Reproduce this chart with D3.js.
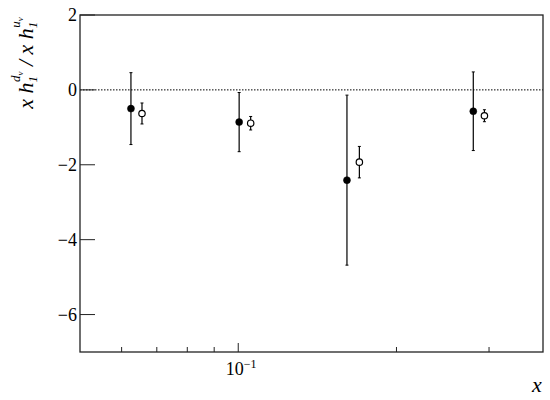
<!DOCTYPE html>
<html>
<head>
<meta charset="utf-8">
<script src="https://cdn.jsdelivr.net/npm/d3@7"></script>
<style>
  body { margin: 0; background: #fff; }
</style>
</head>
<body>
<svg id="graph" width="550" height="400"></svg>
<script>
// 实心点 (filled) 数据
const xFilled = [0.0625, 0.1004, 0.161, 0.280];
const yFilled = [-0.50, -0.86, -2.41, -0.57];
const eFilled = [0.96, 0.79, 2.27, 1.05];

// 空心点 (open) 数据
const xOpen = [0.0656, 0.1056, 0.170, 0.294];
const yOpen = [-0.63, -0.89, -1.93, -0.69];
const eOpen = [0.28, 0.18, 0.42, 0.16];

const yTicks = [2, 0, -2, -4, -6];
const xMinorTicks = [0.06, 0.07, 0.08, 0.09, 0.2, 0.3];
const xMajorTicks = [0.1];

const FONT = 'Liberation Serif';

const svg = d3.select('#graph');
const margin = { top: 15, right: 7, bottom: 48, left: 80 };
const width = 550, height = 400;

const xScale = d3.scaleLog()
    .domain([0.05, 0.38])
    .range([margin.left, width - margin.right]);

const yScale = d3.scaleLinear()
    .domain([-7, 2])
    .range([height - margin.bottom, margin.top]);

const x0 = margin.left, x1 = width - margin.right;
const y0 = margin.top, y1 = height - margin.bottom;

// 零线
svg.append('line')
    .attr('x1', x0).attr('x2', x1)
    .attr('y1', yScale(0)).attr('y2', yScale(0))
    .attr('stroke', '#000')
    .attr('stroke-width', 1)
    .attr('stroke-dasharray', '1.5,1.5');

// y 轴刻度
svg.selectAll('.ytick').data(yTicks).enter().append('line')
    .attr('class', 'ytick')
    .attr('x1', x0).attr('x2', x0 + 15)
    .attr('y1', d => yScale(d)).attr('y2', d => yScale(d))
    .attr('stroke', '#222').attr('stroke-width', 1);

svg.selectAll('.ylabel').data(yTicks).enter().append('text')
    .attr('class', 'ylabel')
    .attr('x', x0 - 3)
    .attr('y', d => yScale(d) + 6)
    .attr('text-anchor', 'end')
    .attr('fill', '#000')
    .style('font-family', FONT)
    .style('font-size', '18px')
    .text(d => d < 0 ? '\u2212' + Math.abs(d) : d);

// x 轴刻度
svg.selectAll('.xminor').data(xMinorTicks).enter().append('line')
    .attr('class', 'xminor')
    .attr('x1', d => xScale(d)).attr('x2', d => xScale(d))
    .attr('y1', y1).attr('y2', y1 - 5)
    .attr('stroke', '#222').attr('stroke-width', 1);

svg.selectAll('.xmajor').data(xMajorTicks).enter().append('line')
    .attr('class', 'xmajor')
    .attr('x1', d => xScale(d)).attr('x2', d => xScale(d))
    .attr('y1', y1).attr('y2', y1 - 9)
    .attr('stroke', '#222').attr('stroke-width', 1);

const xl = svg.selectAll('.xlabel').data(xMajorTicks).enter().append('text')
    .attr('class', 'xlabel')
    .attr('x', d => xScale(d) + 3)
    .attr('y', y1 + 23)
    .attr('text-anchor', 'middle')
    .attr('fill', '#000')
    .style('font-family', FONT)
    .style('font-size', '18px');
xl.append('tspan').text('10');
xl.append('tspan').attr('dy', -7).style('font-size', '12px').text('\u22121');

// 边框
svg.append('rect')
    .attr('x', x0).attr('y', y0)
    .attr('width', x1 - x0).attr('height', y1 - y0)
    .attr('fill', 'none')
    .attr('stroke', '#222')
    .attr('stroke-width', 1.3);

// 误差棒 + 点
const drawSeries = (xs, ys, es, filled, cls) => {
    const data = xs.map((x, i) => ({ x: x, y: ys[i], e: es[i] }));
    const g = svg.append('g').attr('class', cls);
    g.selectAll('.bar').data(data).enter().append('line')
        .attr('x1', d => xScale(d.x)).attr('x2', d => xScale(d.x))
        .attr('y1', d => yScale(d.y + d.e)).attr('y2', d => yScale(d.y - d.e))
        .attr('stroke', '#000').attr('stroke-width', 1.2);
    g.selectAll('.capt').data(data).enter().append('line')
        .attr('x1', d => xScale(d.x) - 1.5).attr('x2', d => xScale(d.x) + 1.5)
        .attr('y1', d => yScale(d.y + d.e)).attr('y2', d => yScale(d.y + d.e))
        .attr('stroke', '#000').attr('stroke-width', 1);
    g.selectAll('.capb').data(data).enter().append('line')
        .attr('x1', d => xScale(d.x) - 1.5).attr('x2', d => xScale(d.x) + 1.5)
        .attr('y1', d => yScale(d.y - d.e)).attr('y2', d => yScale(d.y - d.e))
        .attr('stroke', '#000').attr('stroke-width', 1);
    g.selectAll('circle').data(data).enter().append('circle')
        .attr('cx', d => xScale(d.x))
        .attr('cy', d => yScale(d.y))
        .attr('r', filled ? 3.5 : 3.2)
        .attr('fill', filled ? '#000' : '#fff')
        .attr('stroke', '#000')
        .attr('stroke-width', filled ? 0.5 : 1.2);
};

drawSeries(xFilled, yFilled, eFilled, true, 'filled');
drawSeries(xOpen, yOpen, eOpen, false, 'open');

// 轴标题
svg.append('text')
    .attr('x', x1 - 6)
    .attr('y', 392)
    .attr('text-anchor', 'middle')
    .attr('fill', '#000')
    .style('font-family', FONT)
    .style('font-size', '22px')
    .style('font-style', 'italic')
    .text('x');

const yt = svg.append('text')
    .attr('transform', 'translate(33, 63) rotate(-90)')
    .attr('text-anchor', 'middle')
    .attr('fill', '#000')
    .style('font-family', FONT)
    .style('font-size', '22px')
    .style('font-style', 'italic');
yt.append('tspan').text('x h');
yt.append('tspan').attr('dy', 4).style('font-size', '13px').text('1');
yt.append('tspan').attr('dy', -17).attr('dx', -6).style('font-size', '13px').text('d');
yt.append('tspan').attr('dy', 3).style('font-size', '9px').text('\u03bd');
yt.append('tspan').attr('dy', 10).text(' / x h');
yt.append('tspan').attr('dy', 4).style('font-size', '13px').text('1');
yt.append('tspan').attr('dy', -17).attr('dx', -6).style('font-size', '13px').text('u');
yt.append('tspan').attr('dy', 3).style('font-size', '9px').text('\u03bd');
</script>
</body>
</html>
